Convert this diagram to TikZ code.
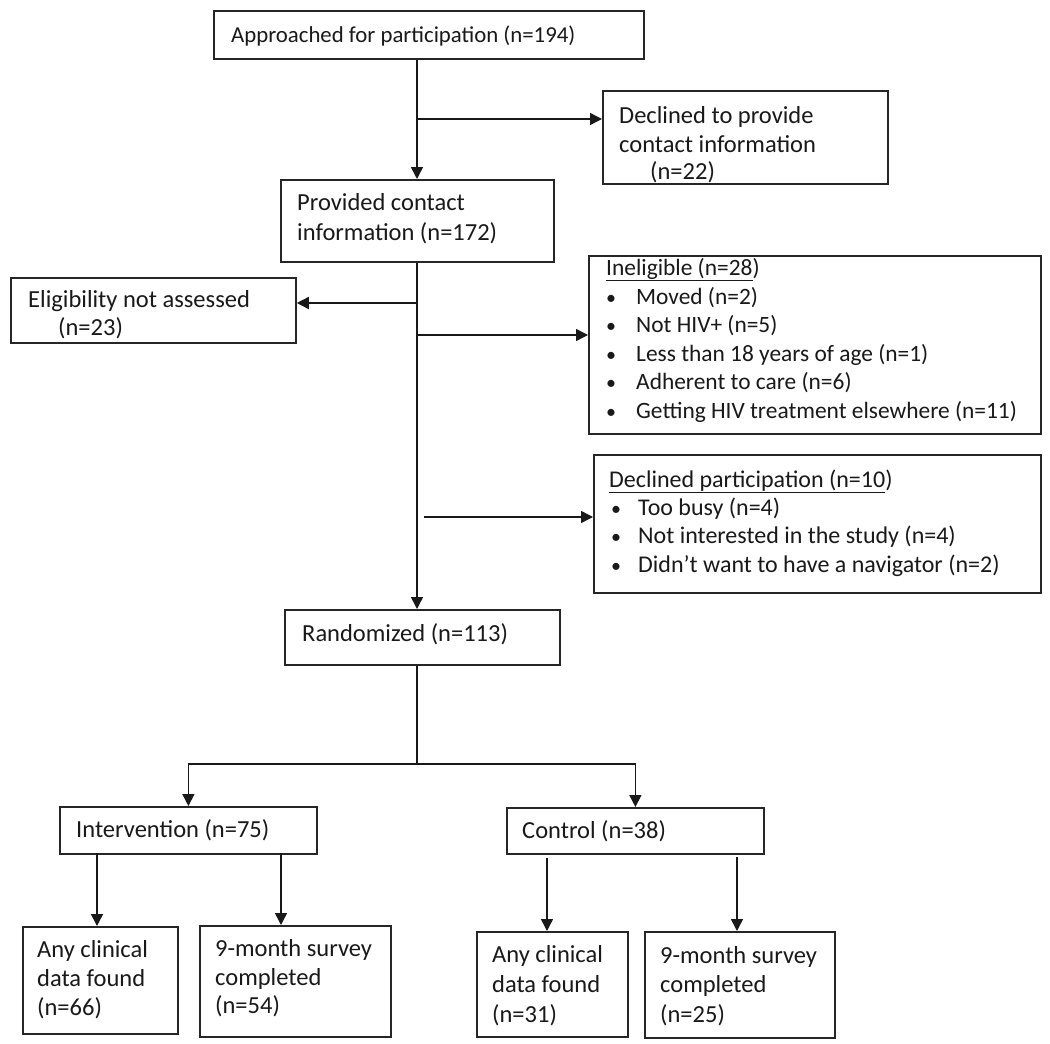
\documentclass[tikz,border=0pt]{standalone}
\usepackage{fontspec}
\setmainfont{Carlito}
\usetikzlibrary{arrows.meta}
\newcommand{\bul}[1]{\makebox[#1][l]{\fontsize{20}{20}\selectfont •}}
\begin{document}
\begin{tikzpicture}[x=1pt,y=-1pt,
  box/.style={draw=black!85, line width=1.8pt, anchor=north west, inner sep=0pt},
  txt/.style={anchor=base west, inner sep=0pt, font=\fontsize{24.5}{28.5}\selectfont, text=black!90},
  small/.style={font=\fontsize{23.4}{28.5}\selectfont},
  mid/.style={font=\fontsize{24}{28.5}\selectfont},
  conn/.style={line width=1.5pt, draw=black!90},
  arr/.style={conn, -{Triangle[length=12pt,width=12pt]}}]
\useasboundingbox (0,0) rectangle (1050,1044);
\fill[white] (0,0) rectangle (1050,1044);

% boxes
\node[box, minimum width=430pt, minimum height=48pt] (b1) at (213,10) {};
\node[box, minimum width=285pt, minimum height=93pt] (b3) at (602,90) {};
\node[box, minimum width=273pt, minimum height=82pt] (b2) at (280,179) {};
\node[box, minimum width=285pt, minimum height=65pt] (b4) at (10,277) {};
\node[box, minimum width=452pt, minimum height=178pt] (b5) at (588,255) {};
\node[box, minimum width=447pt, minimum height=138pt] (b6) at (593,454) {};
\node[box, minimum width=275pt, minimum height=55pt] (b7) at (284,609) {};
\node[box, minimum width=257pt, minimum height=47pt] (b8) at (59,806) {};
\node[box, minimum width=257pt, minimum height=46pt] (b9) at (506,807) {};
\node[box, minimum width=155pt, minimum height=107pt] (b10) at (22,926) {};
\node[box, minimum width=191pt, minimum height=111pt] (b11) at (199,925) {};
\node[box, minimum width=151pt, minimum height=105pt] (b12) at (476,931) {};
\node[box, minimum width=190pt, minimum height=106pt] (b13) at (644,931) {};

% texts
\node[txt, font=\fontsize{22.8}{28}\selectfont] (t1) at (231,42) {Approached for participation (n=194)};
\node[txt] (t3a) at (619,123) {Declined to provide};
\node[txt] (t3b) at (619,152) {contact information};
\node[txt] (t3c) at (650,179) {(n=22)};
\node[txt] (t2a) at (297,210) {Provided contact};
\node[txt] (t2b) at (297,240) {information (n=172)};
\node[txt] (t4a) at (28,307) {Eligibility not assessed};
\node[txt] (t4b) at (58,335) {(n=23)};
\node[txt, small] (t5h) at (606,275) {\underline{Ineligible (n=28})};
\node[txt, small] (t5a) at (606,304) {\bul{30pt}Moved (n=2)};
\node[txt, small] (t5b) at (606,332.5) {\bul{30pt}Not HIV+ (n=5)};
\node[txt, small] (t5c) at (606,361) {\bul{30pt}Less than 18 years of age (n=1)};
\node[txt, small] (t5d) at (606,389.5) {\bul{30pt}Adherent to care (n=6)};
\node[txt, small] (t5e) at (606,418) {\bul{30pt}Getting HIV treatment elsewhere (n=11)};
\node[txt, mid] (t6h) at (609,487) {\underline{Declined participation (n=10})};
\node[txt, mid] (t6a) at (611,515) {\bul{27pt}Too busy (n=4)};
\node[txt, mid] (t6b) at (611,543.5) {\bul{27pt}Not interested in the study (n=4)};
\node[txt, mid] (t6c) at (611,572) {\bul{27pt}Didn’t want to have a navigator (n=2)};
\node[txt] (t7) at (302,641) {Randomized (n=113)};
\node[txt] (t8) at (76,837) {Intervention (n=75)};
\node[txt] (t9) at (522,838) {Control (n=38)};
\node[txt] (t10a) at (37,957) {Any clinical};
\node[txt] (t10b) at (37,986) {data found};
\node[txt] (t10c) at (37,1015) {(n=66)};
\node[txt] (t11a) at (215,956) {9-month survey};
\node[txt] (t11b) at (215,985) {completed};
\node[txt] (t11c) at (215,1013) {(n=54)};
\node[txt] (t12a) at (492,962) {Any clinical};
\node[txt] (t12b) at (492,992) {data found};
\node[txt] (t12c) at (492,1022) {(n=31)};
\node[txt] (t13a) at (660,963) {9-month survey};
\node[txt] (t13b) at (660,992) {completed};
\node[txt] (t13c) at (660,1022) {(n=25)};

% connectors
\coordinate (j1) at (417,119);
\coordinate (j2) at (417,303);
\coordinate (j3) at (417,335);
\coordinate (j4) at (424,517);
\coordinate (r1) at (417,764);
\coordinate (i1) at (97,853);
\coordinate (i2) at (281,853);
\coordinate (c1) at (547,858);
\coordinate (c2) at (737,857);

\draw[arr] (j1 |- b1.south) -- (j1 |- b2.north);
\draw[arr] (j1) -- (j1 -| b3.west);
\draw[arr] (j2 |- b2.south) -- (j2 |- b7.north);
\draw[arr] (j2) -- (j2 -| b4.east);
\draw[arr] (j3) -- (j3 -| b5.west);
\draw[arr] (j4) -- (j4 -| b6.west);
\draw[conn] (r1 |- b7.south) -- (r1);
\draw[arr] (r1) -| (b8.north);
\draw[arr] (r1) -| (b9.north);
\draw[arr] (i1) -- (i1 |- b10.north);
\draw[arr] (i2) -- (i2 |- b11.north);
\draw[arr] (c1) -- (c1 |- b12.north);
\draw[arr] (c2) -- (c2 |- b13.north);
\end{tikzpicture}
\end{document}
